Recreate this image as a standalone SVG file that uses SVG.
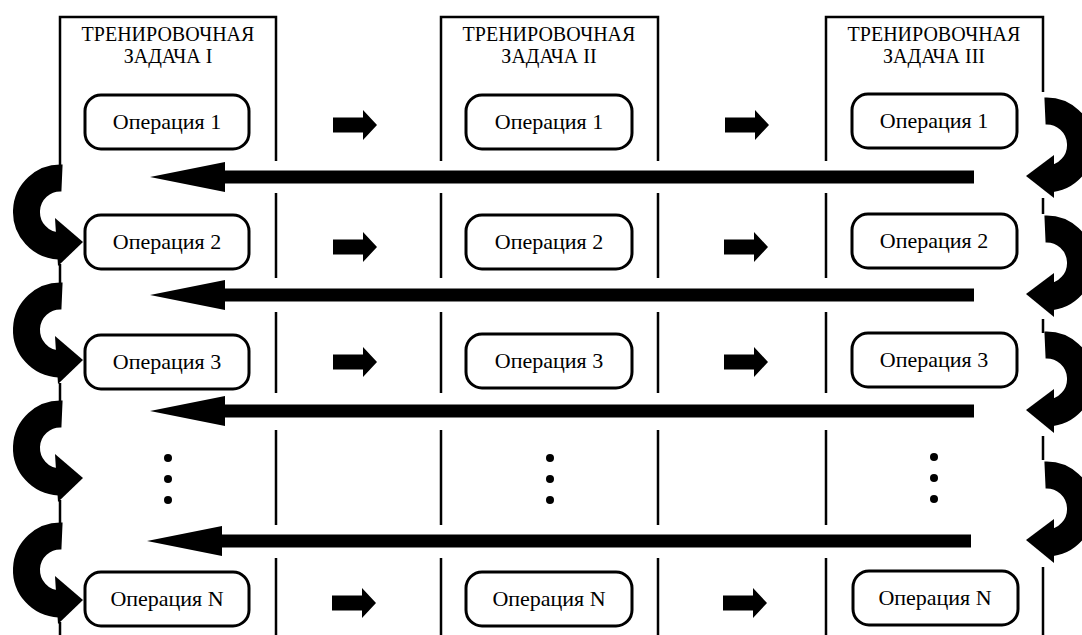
<svg xmlns="http://www.w3.org/2000/svg" width="1082" height="635" viewBox="0 0 1082 635">
<style>
.col{fill:none;stroke:#000;stroke-width:2.5}
.box{fill:#fff;stroke:#000;stroke-width:3}
text{font-family:'Liberation Serif','DejaVu Serif',serif;fill:#000;text-anchor:middle}
.hdr{font-size:20px}
.op{font-size:22px}
.arc{fill:none;stroke:#000;stroke-width:27}
.fill{fill:#000}
</style>
<defs>
<path id="sarrow" d="M0 -7.5 H30 V-15 L44 0 L30 15 V7.5 H0 Z" fill="#000"/>
<circle id="dot" r="4" fill="#000"/>
</defs>
<rect width="1082" height="635" fill="#fff"/>

<g id="task1" font-family="Liberation Serif, serif">
<path class="col" d="M60 175 V17 H276 V161 M276 193 V278 M276 312 V393 M276 430 V525 M276 558 V635 M60 17 V168 M60 264 V288 M60 383 V402 M60 500 V532 M60 622 V635"/>
<text class="hdr" x="168" y="41">ТРЕНИРОВОЧНАЯ</text>
<text class="hdr" x="168" y="63">ЗАДАЧА I</text>
</g>
<g id="task2" font-family="Liberation Serif, serif">
<path class="col" d="M441 161 V17 H658 V161 M441 193 V278 M658 193 V278 M441 312 V393 M658 312 V393 M441 430 V525 M658 430 V525 M441 558 V635 M658 558 V635"/>
<text class="hdr" x="549" y="41">ТРЕНИРОВОЧНАЯ</text>
<text class="hdr" x="549" y="63">ЗАДАЧА II</text>
</g>
<g id="task3" font-family="Liberation Serif, serif">
<path class="col" d="M826 161 V17 H1043 V92 M826 193 V278 M826 312 V393 M826 430 V525 M826 558 V635 M1043 198 V214 M1043 319 V333 M1043 436 V460 M1043 567 V635"/>
<text class="hdr" x="934" y="41">ТРЕНИРОВОЧНАЯ</text>
<text class="hdr" x="934" y="63">ЗАДАЧА III</text>
</g>

<g id="op1-1"><rect class="box" x="85" y="95" width="164" height="54" rx="16"/><text class="op" x="167" y="129">Операция 1</text></g>
<g id="op2-1"><rect class="box" x="466" y="95" width="166" height="54" rx="16"/><text class="op" x="549" y="129">Операция 1</text></g>
<g id="op3-1"><rect class="box" x="852" y="94" width="165" height="54" rx="16"/><text class="op" x="934" y="128">Операция 1</text></g>

<g id="op1-2"><rect class="box" x="85" y="215" width="164" height="54" rx="16"/><text class="op" x="167" y="249">Операция 2</text></g>
<g id="op2-2"><rect class="box" x="466" y="215" width="166" height="54" rx="16"/><text class="op" x="549" y="249">Операция 2</text></g>
<g id="op3-2"><rect class="box" x="852" y="214" width="165" height="54" rx="16"/><text class="op" x="934" y="248">Операция 2</text></g>

<g id="op1-3"><rect class="box" x="85" y="335" width="164" height="54" rx="16"/><text class="op" x="167" y="369">Операция 3</text></g>
<g id="op2-3"><rect class="box" x="466" y="334" width="166" height="54" rx="16"/><text class="op" x="549" y="368">Операция 3</text></g>
<g id="op3-3"><rect class="box" x="852" y="333" width="165" height="54" rx="16"/><text class="op" x="934" y="367">Операция 3</text></g>

<g id="dots1"><use href="#dot" x="168" y="458"/><use href="#dot" x="168" y="479"/><use href="#dot" x="168" y="500"/></g>
<g id="dots2"><use href="#dot" x="550" y="458"/><use href="#dot" x="550" y="479"/><use href="#dot" x="550" y="500"/></g>
<g id="dots3"><use href="#dot" x="934" y="457"/><use href="#dot" x="934" y="478"/><use href="#dot" x="934" y="499"/></g>

<g id="op1-n"><rect class="box" x="85" y="572" width="164" height="54" rx="16"/><text class="op" x="167" y="606">Операция N</text></g>
<g id="op2-n"><rect class="box" x="466" y="572" width="166" height="54" rx="16"/><text class="op" x="549" y="606">Операция N</text></g>
<g id="op3-n"><rect class="box" x="853" y="571" width="165" height="54" rx="16"/><text class="op" x="935" y="605">Операция N</text></g>

<g id="connectors">
<use href="#sarrow" x="333" y="125"/><use href="#sarrow" x="725" y="125"/>
<use href="#sarrow" x="333" y="247"/><use href="#sarrow" x="724" y="247"/>
<use href="#sarrow" x="333" y="362"/><use href="#sarrow" x="724" y="362"/>
<use href="#sarrow" x="332" y="603"/><use href="#sarrow" x="723" y="603"/>

<path class="fill" d="M150 177 L225 162 V170.5 H974 V183.5 H225 V192 Z"/>
<path class="fill" d="M150 295 L225 280 V288.5 H974 V301.5 H225 V310 Z"/>
<path class="fill" d="M150 411 L225 396 V404.5 H974 V417.5 H225 V426 Z"/>
<path class="fill" d="M147 541 L222 526 V534.5 H971 V547.5 H222 V556 Z"/>

<path class="arc" d="M1045 111 A34 34 0 0 1 1048 179"/>
<path class="fill" d="M1054 155 L1026 176 L1054 198 Z"/>
<path class="arc" d="M1045 229 A34 34 0 0 1 1048 297"/>
<path class="fill" d="M1054 273 L1026 294 L1054 317 Z"/>
<path class="arc" d="M1045 345 A34 34 0 0 1 1048 413"/>
<path class="fill" d="M1054 389 L1026 410 L1054 433 Z"/>
<path class="arc" d="M1045 475 A34 34 0 0 1 1048 543"/>
<path class="fill" d="M1054 519 L1026 540 L1054 563 Z"/>

<path class="arc" d="M62 178 A34 34 0 0 0 59 246"/>
<path class="fill" d="M55 218 L83 242 L58 266 Z"/>
<path class="arc" d="M62 296 A34 34 0 0 0 59 364"/>
<path class="fill" d="M55 336 L83 360 L58 384 Z"/>
<path class="arc" d="M62 414 A34 34 0 0 0 59 482"/>
<path class="fill" d="M55 454 L83 478 L58 502 Z"/>
<path class="arc" d="M62 536 A34 34 0 0 0 59 604"/>
<path class="fill" d="M55 576 L83 600 L58 624 Z"/>
</g>
</svg>
